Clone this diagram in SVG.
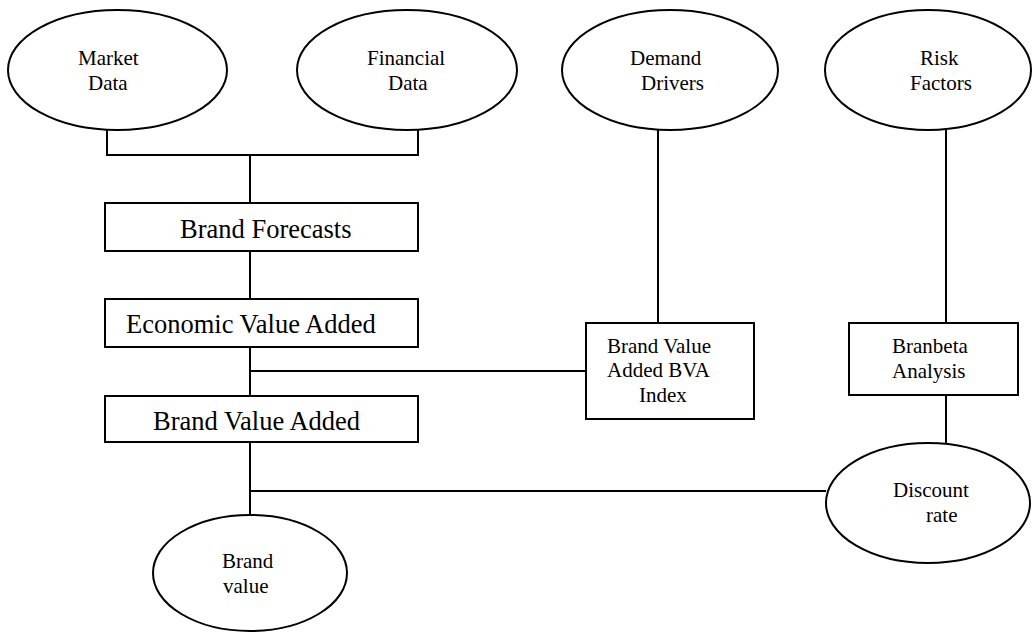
<svg xmlns="http://www.w3.org/2000/svg" width="1034" height="632" viewBox="0 0 1034 632">
<style>
.shape{fill:#fff;stroke:#000;stroke-width:2}
.conn{fill:none;stroke:#000;stroke-width:2}
.t{font-family:"Liberation Serif","Times New Roman",serif;font-size:21px;fill:#000}
.tb{font-family:"Liberation Serif","Times New Roman",serif;font-size:26.5px;fill:#000}
</style>
<rect width="1034" height="632" fill="#fff"/>
<g id="connectors">
<path class="conn" d="M107,130 V155 H418 V130"/>
<path class="conn" d="M250,155 V203"/>
<path class="conn" d="M250,251 V299"/>
<path class="conn" d="M250,347 V396"/>
<path class="conn" d="M250,371 H586"/>
<path class="conn" d="M658,130 V323"/>
<path class="conn" d="M946,130 V323"/>
<path class="conn" d="M946,395 V443"/>
<path class="conn" d="M250,442 V515"/>
<path class="conn" d="M250,491 H826"/>
</g>
<g id="market-data">
<ellipse class="shape" cx="117.5" cy="70" rx="109.5" ry="60"/>
<text class="t" x="78" y="65">Market</text>
<text class="t" x="88" y="90">Data</text>
</g>
<g id="financial-data">
<ellipse class="shape" cx="407" cy="70" rx="110" ry="60"/>
<text class="t" x="367" y="65">Financial</text>
<text class="t" x="388" y="90">Data</text>
</g>
<g id="demand-drivers">
<ellipse class="shape" cx="670" cy="70" rx="108" ry="60"/>
<text class="t" x="630" y="65">Demand</text>
<text class="t" x="641" y="90">Drivers</text>
</g>
<g id="risk-factors">
<ellipse class="shape" cx="928" cy="70" rx="103" ry="60"/>
<text class="t" x="920" y="65">Risk</text>
<text class="t" x="910" y="90">Factors</text>
</g>
<g id="brand-forecasts">
<rect class="shape" x="105" y="203" width="313" height="48"/>
<text class="tb" x="180" y="238">Brand Forecasts</text>
</g>
<g id="economic-value-added">
<rect class="shape" x="105" y="299" width="313" height="48"/>
<text class="tb" x="126" y="333">Economic Value Added</text>
</g>
<g id="brand-value-added">
<rect class="shape" x="105" y="396" width="313" height="46"/>
<text class="tb" x="153" y="430">Brand Value Added</text>
</g>
<g id="bva-index">
<rect class="shape" x="586" y="323" width="168" height="96"/>
<text class="t" x="607" y="353">Brand Value</text>
<text class="t" x="607" y="377">Added BVA</text>
<text class="t" x="639" y="402">Index</text>
</g>
<g id="branbeta-analysis">
<rect class="shape" x="849" y="323" width="169" height="72"/>
<text class="t" x="892" y="353">Branbeta</text>
<text class="t" x="892" y="378">Analysis</text>
</g>
<g id="discount-rate">
<ellipse class="shape" cx="928" cy="503" rx="102" ry="60"/>
<text class="t" x="893" y="497">Discount</text>
<text class="t" x="926" y="522">rate</text>
</g>
<g id="brand-value">
<ellipse class="shape" cx="250" cy="573" rx="97" ry="58"/>
<text class="t" x="222" y="568">Brand</text>
<text class="t" x="223" y="593">value</text>
</g>
</svg>
